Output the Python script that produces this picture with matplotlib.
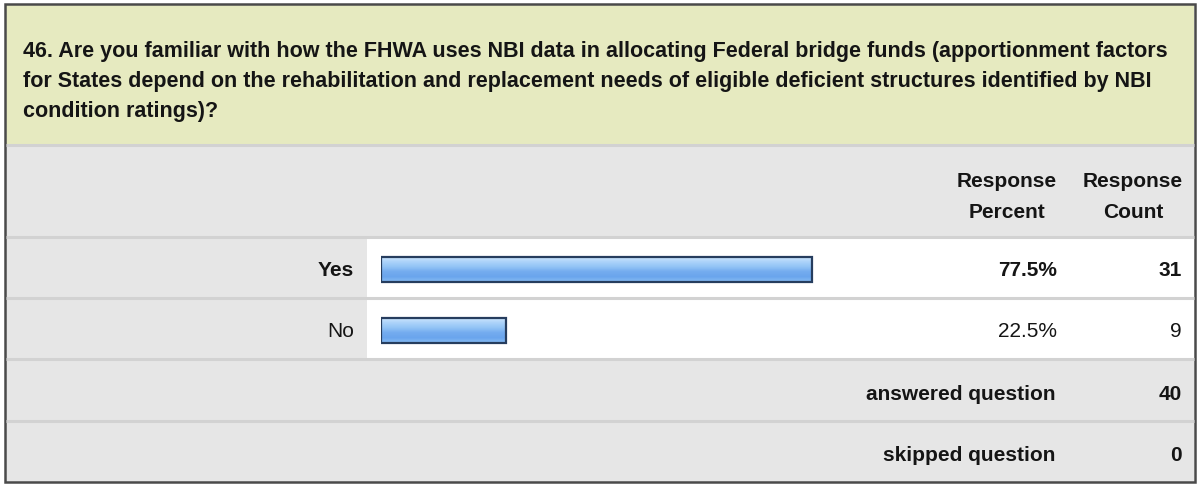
import numpy as np
import matplotlib.pyplot as plt
from matplotlib.patches import Rectangle
from matplotlib.colors import LinearSegmentedColormap

# survey question 46
question_lines = [
    "46. Are you familiar with how the FHWA uses NBI data in allocating Federal bridge funds (apportionment factors",
    "for States depend on the rehabilitation and replacement needs of eligible deficient structures identified by NBI",
    "condition ratings)?",
]
answers = ["Yes", "No"]
percents = [77.5, 22.5]
counts = [31, 9]
answered = 40
skipped = 0

W, H = 1199, 485
GREEN = "#e6eac0"
GRAY = "#e6e6e6"
SEP = "#d2d2d2"
TXT = "#151515"
FS = 15.0
plt.rcParams['font.family'] = ['Liberation Sans', 'DejaVu Sans']

fig = plt.figure(figsize=(W / 100, H / 100), dpi=100)
ax = fig.add_axes([0, 0, 1, 1])
ax.set_xlim(0, W)
ax.set_ylim(H, 0)
ax.axis("off")

def box(x0, y0, x1, y1, color):
    ax.add_patch(Rectangle((x0, y0), x1 - x0, y1 - y0, facecolor=color, edgecolor="none"))

def label(x, y, s, ha="right", bold=True, fs=FS):
    # nudge down a bit so the caps, not the descenders, sit on y
    ax.text(x, y + 2.5, s, fontsize=fs, fontweight="bold" if bold else "normal",
            color=TXT, ha=ha, va="center")

L, R, T, B = 6, 1194, 5, 483
# row bands
box(L, T, R, 146, GREEN)
box(L, 146, R, 238, GRAY)
row_top = [238, 299]
row_bot = [299, 360]
for y0, y1 in zip(row_top, row_bot):
    box(L, y0, 367, y1, GRAY)
    box(367, y0, R, y1, "white")
box(L, 360, R, 422, GRAY)
box(L, 422, R, B, GRAY)
# separators
for y in [146, 238, 299, 360, 422]:
    ax.plot([L, R], [y, y], color=SEP, lw=2.2, solid_capstyle="butt")
ax.add_patch(Rectangle((L - 1, T), R - L + 2, B - T, facecolor="none",
                       edgecolor="#4a4a4a", lw=1.8))

# question text
for i, line in enumerate(question_lines):
    label(23, 49 + i * 30, line, ha="left", fs=15.5)

# column headers
for cx, l2 in [(1007, "Percent"), (1133, "Count")]:
    label(cx, 179, "Response", ha="center")
    label(cx, 210, l2, ha="center")

# answer rows
top = int(np.argmax(percents))
for i, (a, p, c) in enumerate(zip(answers, percents, counts)):
    yc = (row_top[i] + row_bot[i]) / 2
    label(354, yc, a, bold=(i == top))
    label(1057, yc, f"{p:.1f}%", bold=(i == top))
    label(1182, yc, str(c), bold=(i == top))

label(1055, 392, "answered question")
label(1182, 392, str(answered))
label(1055, 453, "skipped question")
label(1182, 453, str(skipped))

# bar area: 0-100 % across x pixels 381..937, one row per answer
bx0, bx1 = 381, 937
by0, by1 = 240, 362
bax = fig.add_axes([bx0 / W, 1 - by1 / H, (bx1 - bx0) / W, (by1 - by0) / H])
bax.axis("off")
bars = bax.barh(range(len(answers)), percents, height=0.41, left=0,
                facecolor="none", edgecolor="#263d5e", lw=1.6, zorder=3)

grad = LinearSegmentedColormap.from_list(
    "bar", ["#d2e8fd", "#aed4fa", "#94c5f6", "#74acef", "#6aa5ed", "#86bbf3"])
g = np.linspace(0, 1, 64).reshape(-1, 1)
for b in bars:
    x, y = b.get_x(), b.get_y()
    im = bax.imshow(g, cmap=grad, aspect="auto", zorder=2,
                    extent=(x, x + b.get_width(), y + b.get_height(), y))
    im.set_clip_path(b)
bax.set_xlim(0, 100)
bax.set_ylim(len(answers) - 0.5, -0.5)

fig.savefig("out.png", dpi=100)
